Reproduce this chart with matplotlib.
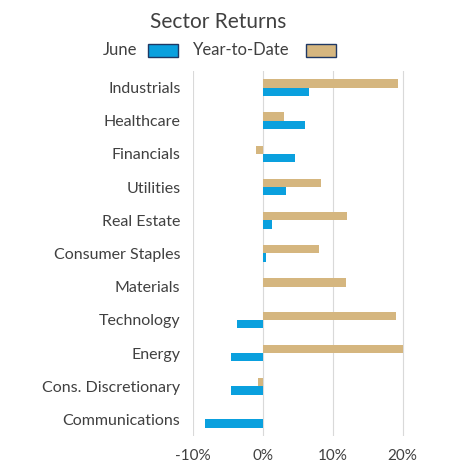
import numpy as np
import matplotlib.pyplot as plt
from matplotlib.patches import Rectangle

plt.rcParams['font.family'] = ['Lato', 'DejaVu Sans']

sectors = ["Industrials", "Healthcare", "Financials", "Utilities", "Real Estate",
           "Consumer Staples", "Materials", "Technology", "Energy",
           "Cons. Discretionary", "Communications"]
june = [6.6, 6.1, 4.6, 3.3, 1.3, 0.4, 0.0, -3.7, -4.6, -4.6, -8.3]
ytd = [19.4, 3.0, -1.0, 8.3, 12.0, 8.1, 11.9, 19.0, 20.1, -0.7, 0.0]
ticks = [-10, 0, 10, 20]
tick_labels = ["-10%", "0%", "10%", "20%"]

blue = "#0AA0DE"
tan = "#D5B67F"

fig = plt.figure(figsize=(4.64, 4.76), dpi=100)
ax = fig.add_axes([193/464, 40/476, 227/464, 365/476])

y = np.arange(len(sectors))
h = 0.25
ax.barh(y - h/2, ytd, height=h, color=tan)
ax.barh(y + h/2, june, height=h, color=blue)
ax.set_ylim(len(sectors) - 0.5, -0.5)
ax.set_xlim(-10, 22.5)
ax.set_yticks(y)
ax.set_yticklabels(sectors, fontsize=11.5, color="#404040")
ax.set_xticks(ticks)
ax.set_xticklabels(tick_labels, fontsize=11, color="#404040")
ax.tick_params(length=0, pad=9)
ax.grid(axis="x", color="#D9D9D9", lw=0.8)
ax.set_axisbelow(True)
for s in ax.spines.values():
    s.set_visible(False)

fig.text(150/464, 1 - 22/476, "Sector Returns", fontsize=15, color="#404040", va="center")
fig.text(103/464, 1 - 50/476, "June", fontsize=12, color="#404040", va="center")
fig.patches.append(Rectangle((148/464, 1 - 57/476), 30/464, 13/476, transform=fig.transFigure,
                             facecolor=blue, edgecolor="#1F3864", lw=1))
fig.text(193/464, 1 - 50/476, "Year-to-Date", fontsize=12, color="#404040", va="center")
fig.patches.append(Rectangle((306/464, 1 - 57/476), 30/464, 13/476, transform=fig.transFigure,
                             facecolor=tan, edgecolor="#1F3864", lw=1))

fig.savefig("out.png", dpi=100)
